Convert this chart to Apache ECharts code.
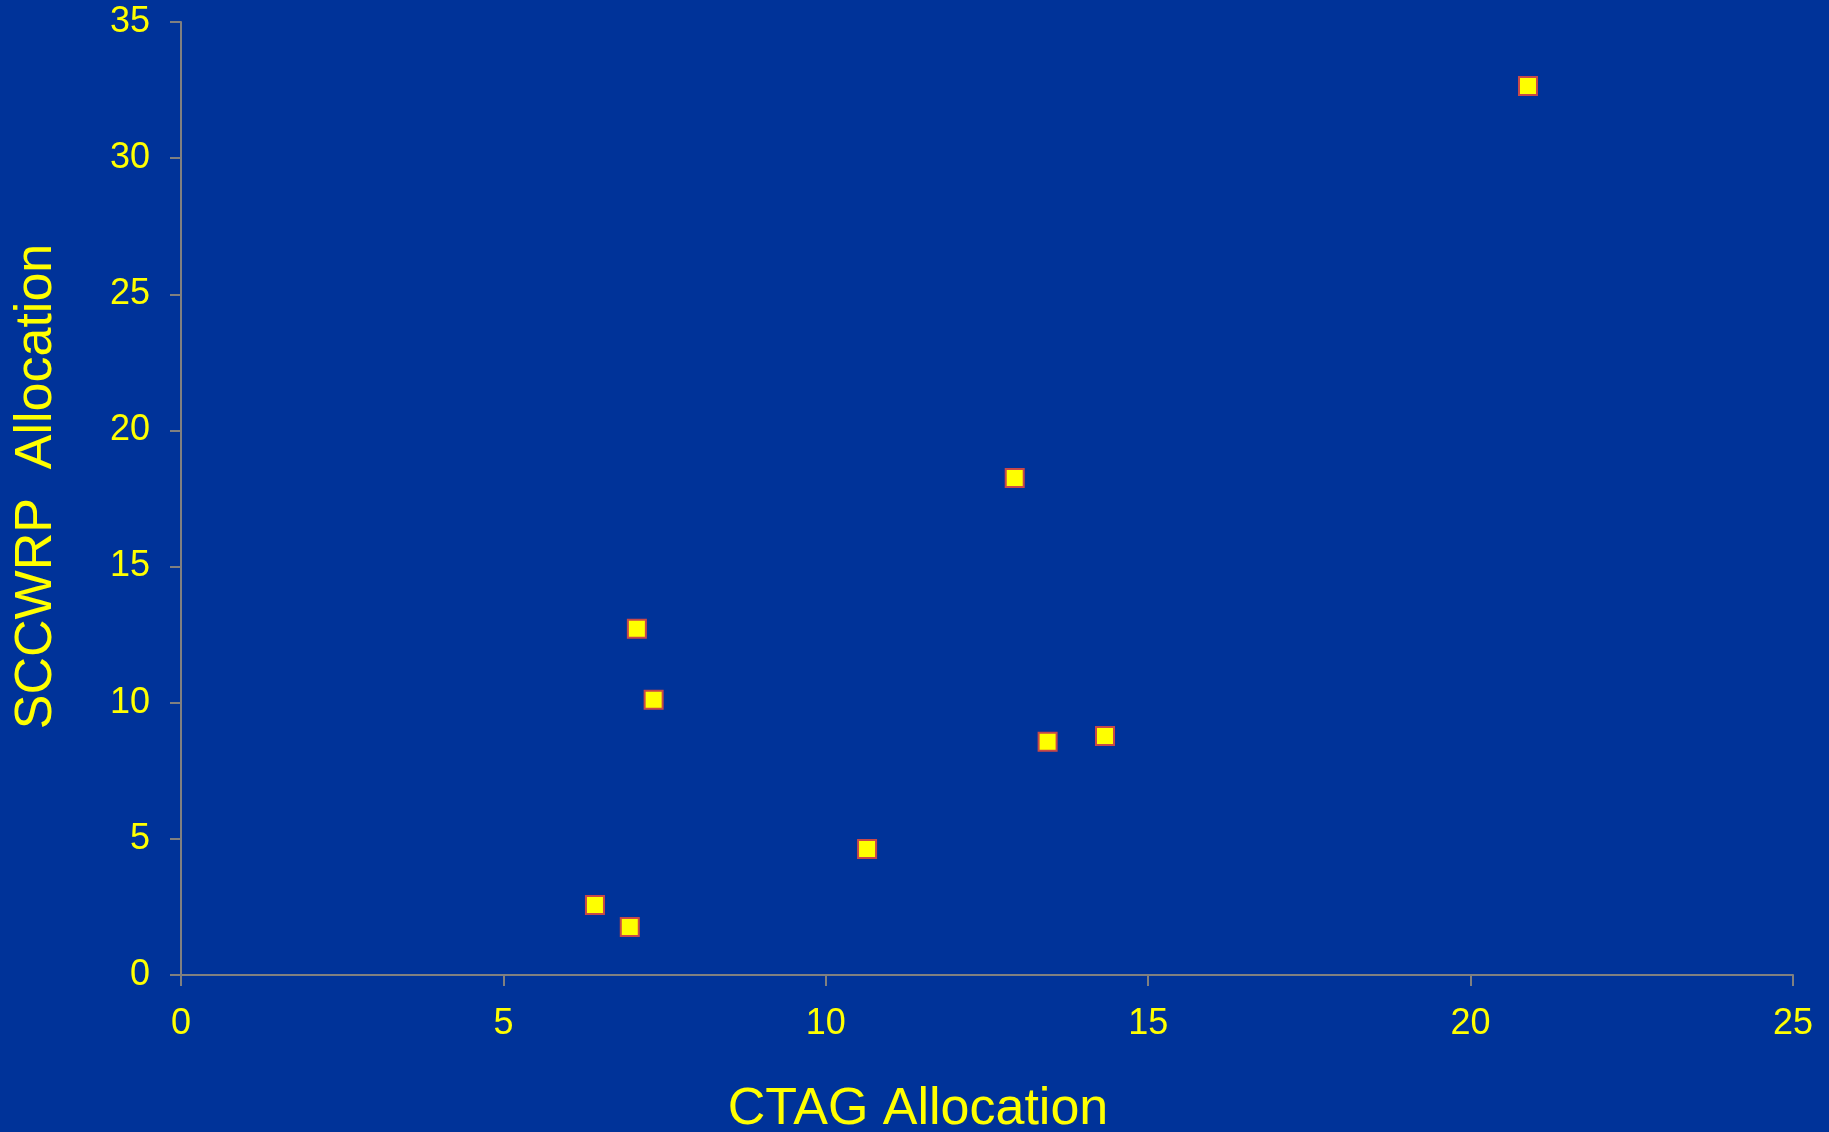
<!DOCTYPE html>
<html>
<head>
<meta charset="utf-8">
<script src="https://cdn.jsdelivr.net/npm/echarts@6/dist/echarts.min.js"></script>
<style>
html,body{margin:0;padding:0;background:#003399;}
#c{width:1829px;height:1132px;}
</style>
</head>
<body>
<div id="c"></div>
<script>
const ctag = [20.89, 12.93, 7.07, 7.33, 13.44, 14.33, 10.64, 6.42, 6.96];
const sccwrp = [32.65, 18.25, 12.72, 10.11, 8.57, 8.78, 4.63, 2.57, 1.76];
const xTicks = [0, 5, 10, 15, 20, 25];
const yTicks = [0, 5, 10, 15, 20, 25, 30, 35];
const xTitle = 'CTAG Allocation';
const yTitle = 'SCCWRP  Allocation';

const points = ctag.map((x, i) => [x, sccwrp[i]]);
const font = '"Liberation Sans", Arial, sans-serif';
const axisLine = {show: true, lineStyle: {color: '#808080', width: 2}};

const chart = echarts.init(document.getElementById('c'));
chart.setOption({
  backgroundColor: '#003399',
  animation: false,
  grid: {left: 181, right: 36, top: 22, bottom: 157, containLabel: false, outerBoundsMode: 'none'},
  xAxis: {
    type: 'value',
    min: xTicks[0], max: xTicks[xTicks.length - 1], interval: 5,
    axisLine: axisLine,
    axisTick: {show: true, length: 11, lineStyle: {color: '#808080', width: 2}},
    splitLine: {show: false},
    axisLabel: {color: '#FFFF00', fontSize: 36, fontFamily: font, margin: 31},
    name: xTitle,
    nameLocation: 'middle',
    nameGap: 109,
    nameTextStyle: {color: '#FFFF00', fontSize: 52, fontFamily: font, padding: [0, 138, 0, 0]}
  },
  yAxis: {
    type: 'value',
    min: yTicks[0], max: yTicks[yTicks.length - 1], interval: 5,
    axisLine: axisLine,
    axisTick: {show: true, length: 11, lineStyle: {color: '#808080', width: 2}},
    splitLine: {show: false},
    axisLabel: {color: '#FFFF00', fontSize: 36, fontFamily: font, margin: 31},
    name: yTitle,
    nameLocation: 'middle',
    nameGap: 118,
    nameTextStyle: {color: '#FFFF00', fontSize: 52, fontFamily: font, padding: [0, 0, 0, 24]}
  },
  series: [{
    type: 'scatter',
    data: points,
    symbol: 'rect',
    symbolSize: 18,
    itemStyle: {color: '#FFFF00', borderColor: '#C84848', borderWidth: 2, opacity: 1}
  }]
});
</script>
</body>
</html>
